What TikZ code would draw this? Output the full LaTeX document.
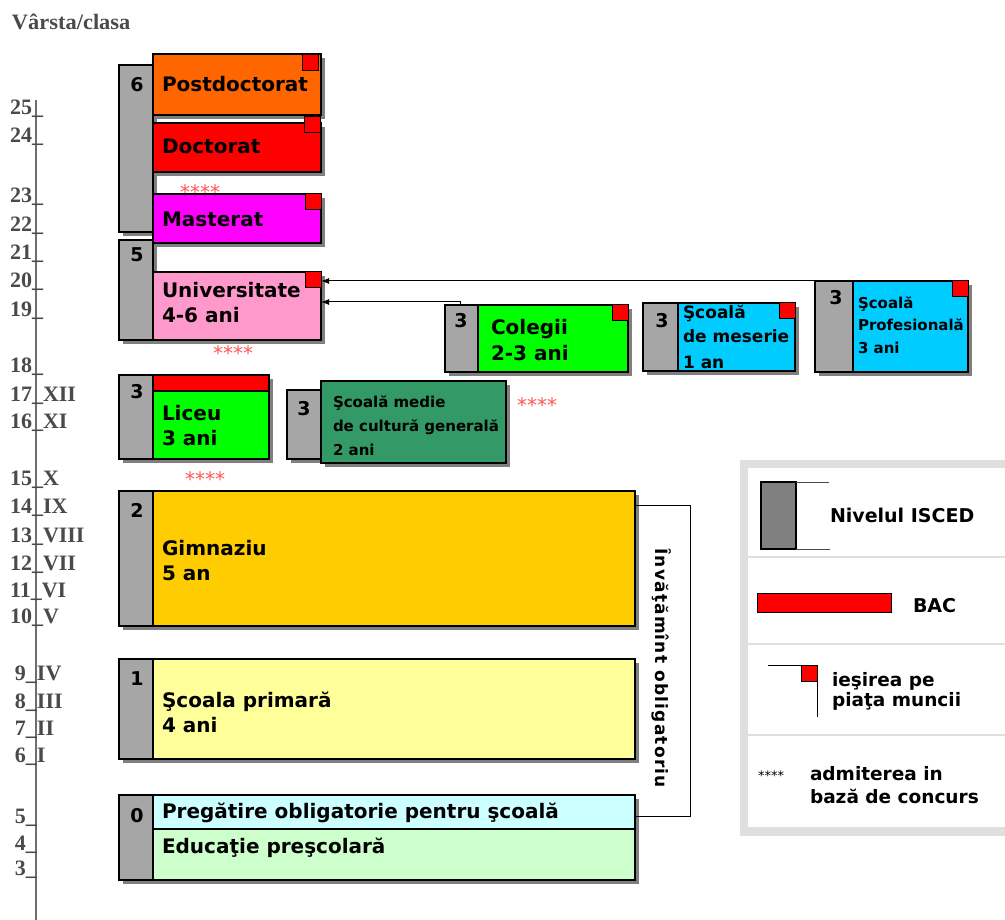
\documentclass[tikz,border=0pt]{standalone}
\usepackage{fontspec}
\usepackage{graphicx}
\setmainfont{DejaVu Sans}
\newfontfamily\axisfont{Liberation Serif}
\usetikzlibrary{shadows,arrows.meta}
\definecolor{iscedgray}{HTML}{A6A6A6}
\definecolor{legendgray}{HTML}{808080}
\definecolor{cOrange}{HTML}{FF6600}
\definecolor{cRed}{HTML}{FF0000}
\definecolor{cMagenta}{HTML}{FF00FF}
\definecolor{cPink}{HTML}{FF99CC}
\definecolor{cGreen}{HTML}{00FF00}
\definecolor{cCyan}{HTML}{00CCFF}
\definecolor{cDarkGreen}{HTML}{339966}
\definecolor{cGold}{HTML}{FFCC00}
\definecolor{cLightYellow}{HTML}{FFFF99}
\definecolor{cLightCyan}{HTML}{CCFFFF}
\definecolor{cLightGreen}{HTML}{CCFFCC}
\definecolor{axisgray}{HTML}{4A4A4A}
\definecolor{starred}{HTML}{FF5555}
\newcommand\edubox[6]{\node[box, fill=#6, minimum width=#4-#2, minimum height=#5-#3] (#1) at (#2,#3) {};}
\begin{document}
\begin{tikzpicture}[x=1pt,y=-1pt,
  every node/.style={inner sep=0pt, outer sep=0pt},
  box/.style={draw=black, line width=1.3pt, rectangle, anchor=north west,
     drop shadow={shadow xshift=4pt, shadow yshift=-4pt, opacity=.5, fill=black}},
  exitsq/.style={draw=black, line width=1pt, fill=cRed, minimum size=16pt, anchor=north east},
  lvl/.style={font=\fontsize{19}{19}\selectfont\bfseries, anchor=base},
  big/.style={font=\fontsize{20}{25}\selectfont\bfseries, anchor=base west, align=left},
  mid/.style={font=\fontsize{17}{25}\selectfont\bfseries, anchor=base west, align=left},
  small/.style={font=\fontsize{15}{23}\selectfont\bfseries, anchor=base west, align=left},
  axl/.style={font=\axisfont\fontsize{22}{22}\selectfont\bfseries, text=axisgray, anchor=base west},
  stars/.style={font=\fontsize{20}{20}\selectfont, text=starred, anchor=base west},
  legtxt/.style={font=\fontsize{19}{21}\selectfont\bfseries, anchor=base west, align=left},
  conn/.style={draw=black, line width=1pt, -{Latex[length=8pt,width=6pt]}},
]
\useasboundingbox (0,0) rectangle (1005,920);

% axis
\coordinate (axTop) at (36,100);
\coordinate (axBot) at (36,920);
\draw[axisgray!80, line width=1.5pt] (axTop) -- (axBot);
\node[axl] (vtitle) at (12,30) {\scalebox{1.02}[1]{Vârsta/clasa}};
\foreach \b/\x/\t in {115/10/{25\_}, 143/10/{24\_}, 203/10/{23\_}, 232/10/{22\_}, 260/10/{21\_},
  288/10/{20\_}, 317/10/{19\_}, 373/10/{18\_}, 402/10/{17\_XII}, 428/10/{16\_XI}, 485/10/{15\_X},
  513/10/{14\_IX}, 542/10/{13\_VIII}, 570/10/{12\_VII}, 597/10/{11\_VI}, 623/10/{10\_V},
  680/15/{9\_IV}, 708/15/{8\_III}, 735/15/{7\_II}, 762/15/{6\_I}, 823/15/{5\_}, 850/15/{4\_}, 875/15/{3\_}}
  \node[axl] (ax\b) at (\x,\b) {\t};

% compulsory education bracket
\coordinate (brT) at (690,505);
\coordinate (brB) at (690,816);

% boxes
\edubox{g6}{119}{65}{153}{232}{iscedgray}
\edubox{post}{153}{54}{321}{115}{cOrange}
\edubox{doc}{153}{123}{321}{172}{cRed}
\edubox{mast}{153}{194}{321}{243}{cMagenta}
\edubox{g5}{119}{240}{153}{340}{iscedgray}
\edubox{univ}{153}{272}{321}{340}{cPink}
\edubox{gcol}{445}{305}{478}{372}{iscedgray}
\edubox{col}{478}{305}{628}{372}{cGreen}
\edubox{gmes}{643}{303}{678}{371}{iscedgray}
\edubox{mes}{678}{303}{795}{371}{cCyan}
\edubox{gprof}{815}{281}{853}{372}{iscedgray}
\edubox{prof}{853}{281}{968}{372}{cCyan}
\edubox{g3}{119}{375}{153}{459}{iscedgray}
\edubox{bac}{153}{375}{269}{391}{cRed}
\edubox{lic}{153}{391}{269}{459}{cGreen}
\edubox{gmed}{287}{390}{321}{459}{iscedgray}
\edubox{med}{321}{381}{506}{463}{cDarkGreen}
\edubox{g2}{119}{491}{153}{626}{iscedgray}
\edubox{gim}{153}{491}{635}{626}{cGold}
\edubox{g1}{119}{659}{153}{759}{iscedgray}
\edubox{prim}{153}{659}{635}{759}{cLightYellow}
\edubox{g0}{119}{795}{153}{880}{iscedgray}
\edubox{preg}{153}{795}{635}{829}{cLightCyan}
\edubox{pres}{153}{829}{635}{880}{cLightGreen}

\draw[line width=1pt] (brT -| gim.east) -- (brT) -- (brB) -- (brB -| preg.east);
\node[font=\fontsize{17}{17}\selectfont\bfseries\addfontfeature{LetterSpace=7}, rotate=-90] (oblig) at (662,668) {Învăţămînt obligatoriu};

% exit squares
\node[exitsq] (xpost) at (318,55) {};
\node[exitsq] (xdoc) at (320,117) {};
\node[exitsq] (xmast) at (321,194) {};
\node[exitsq] (xuniv) at (321,272) {};
\node[exitsq] (xcol) at (628,305) {};
\node[exitsq] (xmes) at (795,303) {};
\node[exitsq] (xprof) at (968,281) {};

% labels (base anchor = baseline of last line)
\node[big] (tpost) at (162,92) {Postdoctorat};
\node[big] (tdoc) at (162,154) {Doctorat};
\node[big] (tmast) at (162,227) {Masterat};
\node[big] (tuniv) at (162,323) {Universitate\\4-6 ani};
\node[big] (tcol) at (491,360) {Colegii\\2-3 ani};
\node[mid] (tmes) at (683,368) {Şcoală\\de meserie\\1 an};
\node[small, font=\fontsize{15}{22.5}\selectfont\bfseries] (tprof) at (858,353) {Şcoală\\Profesională\\3 ani};
\node[big] (tlic) at (162,445) {Liceu\\3 ani};
\node[small, font=\fontsize{15}{24}\selectfont\bfseries] (tmed) at (333,455) {Şcoală medie\\de cultură generală\\2 ani};
\node[big] (tgim) at (162,580) {Gimnaziu\\5 an};
\node[big] (tprim) at (162,732) {Şcoala primară\\4 ani};
\node[big] (tpreg) at (162,818) {Pregătire obligatorie pentru şcoală};
\node[big] (tpres) at (162,853) {Educaţie preşcolară};

% ISCED levels
\node[lvl] (n6) at (137,92) {6};
\node[lvl] (n5) at (137,262) {5};
\node[lvl] (n3lic) at (137,398) {3};
\node[lvl] (n2) at (137,517) {2};
\node[lvl] (n1) at (137,685) {1};
\node[lvl] (n0) at (137,822) {0};
\node[lvl] (n3col) at (461,327) {3};
\node[lvl] (n3med) at (304,415) {3};
\node[lvl] (n3mes) at (662,327) {3};
\node[lvl] (n3prof) at (836,305) {3};

% admission stars
\node[stars] (s1) at (180,200) {****};
\node[stars] (s2) at (213,360) {****};
\node[stars] (s3) at (185,486) {****};
\node[stars] (s4) at (517,412) {****};

% connectors
\coordinate (c1) at (460,302);
\draw[conn] (prof.north east) -- (prof.north east -| univ.east);
\draw[conn] (c1 |- gcol.north) -- (c1) -- (c1 -| univ.east);

% legend
\fill[gray!25] (740,460) rectangle (1005,836);
\fill[white] (748,468) rectangle (1005,827);
\draw[gray!25, line width=2pt] (748,557) -- (1005,557);
\draw[gray!25, line width=2pt] (748,644) -- (1005,644);
\draw[gray!25, line width=2pt] (748,735) -- (1005,735);
\node[draw=black, line width=1.2pt, fill=legendgray, minimum width=35, minimum height=67, anchor=north west] (lgIsced) at (761,482) {};
\draw[line width=1pt, black!70] (lgIsced.north east) -- ++(33,0);
\draw[line width=1pt, black!70] (lgIsced.south east) -- ++(34,0);
\node[legtxt] (lgIscedT) at (830,522) {Nivelul ISCED};
\node[draw=black, line width=1pt, fill=cRed, minimum width=134, minimum height=19, anchor=north west] (lgBac) at (757,593) {};
\node[legtxt] (lgBacT) at (913,612) {BAC};
\coordinate (lgx1) at (768,665);
\node[exitsq] (lgExit) at (817,665) {};
\draw[line width=1pt] (lgx1) -- (lgExit.north east) -- ++(0,52);
\node[font=\fontsize{18.5}{20}\selectfont\bfseries, anchor=base west, align=left] (lgExitT) at (832,706) {ieşirea pe\\piaţa muncii};
\node[font=\fontsize{13}{13}\selectfont, anchor=base west] (lgStars) at (758,780) {****};
\node[font=\fontsize{18.5}{23}\selectfont\bfseries, anchor=base west, align=left] (lgAdmT) at (810,803) {admiterea in\\bază de concurs};
\end{tikzpicture}
\end{document}
